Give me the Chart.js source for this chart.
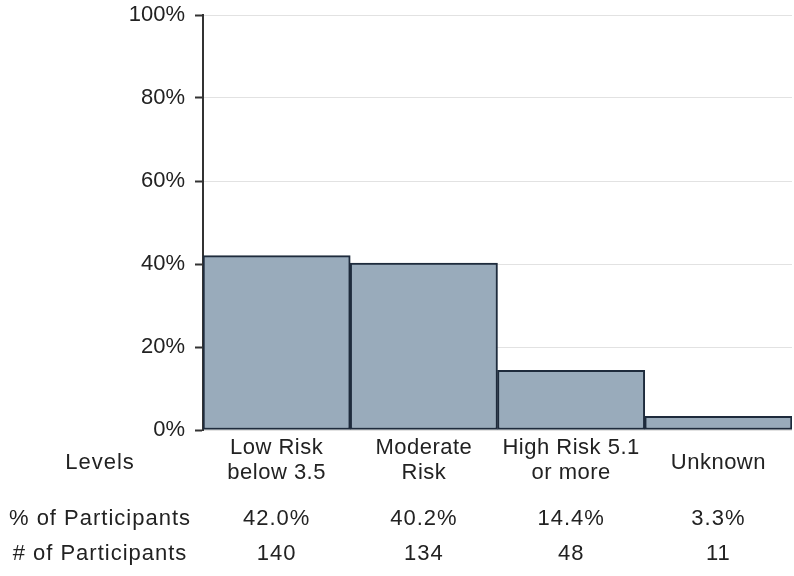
<!DOCTYPE html>
<html>
<head>
<meta charset="utf-8">
<script src="https://cdn.jsdelivr.net/npm/chart.js@4/dist/chart.umd.min.js"></script>
<style>
html,body{margin:0;padding:0;background:#fff;}
#wrap{width:794px;height:576px;}
</style>
</head>
<body>
<div id="wrap"><canvas id="c" width="794" height="576"></canvas></div>
<script>
const categories = [["Low Risk","below 3.5"],["Moderate","Risk"],["High Risk 5.1","or more"],["Unknown"]];
const percentValues = [42.0, 40.2, 14.4, 3.3];
const participantCounts = [140, 134, 48, 11];
const yTicks = [0, 20, 40, 60, 80, 100];
const rowLabels = ["Levels", "% of Participants", "# of Participants"];

const FONT = "'Liberation Sans', Arial, sans-serif";
const TEXT = "#222";

const tablePlugin = {
  id: 'tablePlugin',
  afterDraw(chart) {
    const ctx = chart.ctx;
    const xs = chart.scales.x;
    ctx.save();
    ctx.font = "22px " + FONT;
    ctx.fillStyle = TEXT;
    ctx.textAlign = 'center';
    ctx.textBaseline = 'middle';
    const rowY = [463, 519, 554];
    ctx.letterSpacing = '1px';
    rowLabels.forEach((t, i) => ctx.fillText(t, 100, rowY[i]));
    categories.forEach((lines, i) => {
      const cx = xs.getPixelForValue(i);
      ctx.letterSpacing = '0.5px';
      if (lines.length === 1) {
        ctx.fillText(lines[0], cx, 463);
      } else {
        lines.forEach((l, j) => ctx.fillText(l, cx, 448 + j * 25));
      }
      ctx.letterSpacing = '1px';
      ctx.fillText(percentValues[i].toFixed(1) + '%', cx, rowY[1]);
      ctx.fillText(String(participantCounts[i]), cx, rowY[2]);
    });
    ctx.restore();
  }
};

new Chart(document.getElementById('c'), {
  type: 'bar',
  data: {
    labels: categories.map(c => c.join(' ')),
    datasets: [{
      data: percentValues,
      backgroundColor: '#99abbb',
      borderColor: '#1e2b3c',
      borderWidth: 2,
      borderSkipped: false,
      categoryPercentage: 1.0,
      barPercentage: 1.0
    }]
  },
  options: {
    responsive: false,
    animation: false,
    devicePixelRatio: 1,
    layout: { padding: { top: 15, right: 2, left: 0, bottom: 0 } },
    plugins: { legend: { display: false }, tooltip: { enabled: false } },
    scales: {
      x: {
        type: 'category',
        ticks: { display: false },
        grid: { display: false },
        border: { display: false },
        afterFit(scale) { scale.height = 146; scale.paddingLeft = 0; scale.paddingRight = 0; }
      },
      y: {
        min: 0, max: 100,
        afterBuildTicks(scale) { scale.ticks = yTicks.map(v => ({ value: v })); },
        ticks: {
          callback: v => v + '%',
          font: { size: 22, family: FONT },
          color: TEXT,
          padding: 10
        },
        grid: { color: '#e2e2e2', lineWidth: 1, tickLength: 8, tickColor: '#333', tickWidth: 2 },
        border: { color: '#333', width: 2 },
        afterFit(scale) { scale.width = 203; scale.paddingTop = 0; scale.paddingBottom = 0; }
      }
    }
  },
  plugins: [tablePlugin]
});
</script>
</body>
</html>
